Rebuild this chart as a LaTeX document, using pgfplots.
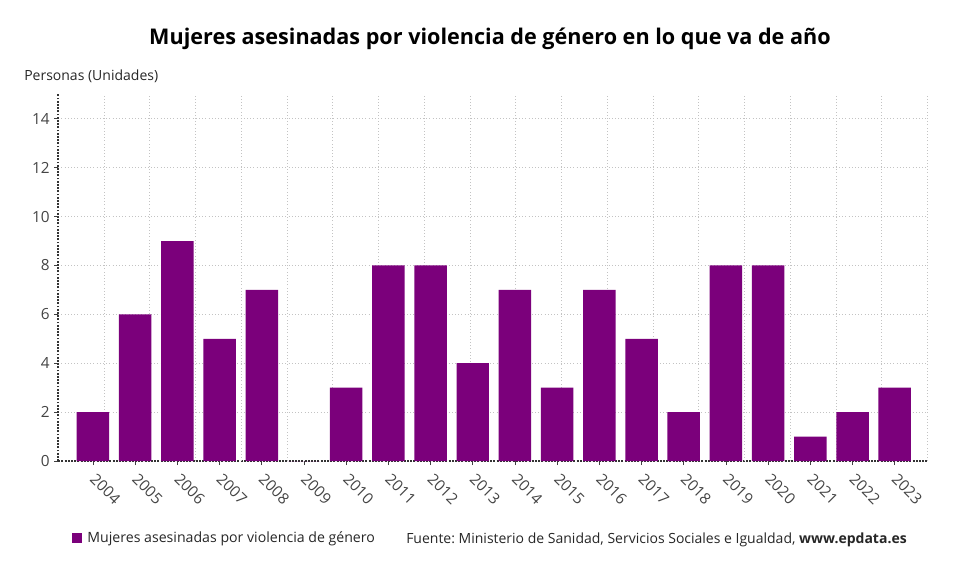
\documentclass[border=0pt]{standalone}
\usepackage{pgfplots}
\pgfplotsset{compat=1.18}
\usepackage{fontspec}
\setmainfont{Open Sans}
\frenchspacing
\definecolor{barc}{RGB}{123,0,123}
\definecolor{tickc}{RGB}{68,68,68}
\definecolor{gridc}{RGB}{195,195,195}
\begin{document}
\begin{tikzpicture}
\path[use as bounding box] (0pt,0pt) rectangle (735pt,431.25pt);
\node[anchor=base, inner sep=0pt, font=\bfseries\fontsize{16.2}{19}\selectfont] at (367.5pt,397.5pt) {Mujeres asesinadas por violencia de género en lo que va de año};
\node[anchor=base west, inner sep=0pt, font=\fontsize{10.5}{12}\selectfont, text=black!85] at (18pt,370.5pt) {Personas (Unidades)};
\begin{axis}[at={(43.7pt,85.5pt)}, anchor=south west, scale only axis,
  width=652pt, height=275pt,
  /pgf/number format/assume math mode=true,
  xmin=-0.823, xmax=19.78, ymin=0, ymax=15,
  ybar, bar width=0.77,
  ytick={0,2,...,14},
  xtick={0,...,19},
  xticklabels={2004,2005,2006,2007,2008,2009,2010,2011,2012,2013,2014,2015,2016,2017,2018,2019,2020,2021,2022,2023},
  x tick label style={xshift=3pt, yshift=-0.7pt, rotate=-45, anchor=north west, font=\fontsize{11.5}{13}\selectfont, text=tickc},
  y tick label style={font=\fontsize{11.5}{13}\selectfont, text=tickc},
  ymajorgrids, grid style={gridc, dotted, line width=0.6pt},
  extra x ticks={0.2642,1.3484,2.4326,3.5168,4.6011,5.6853,6.7695,7.8537,8.9379,10.0221,11.1063,12.1905,13.2747,14.3589,15.4432,16.5274,17.6116,18.6958,19.78},
  extra x tick labels={},
  extra x tick style={grid=major, major tick length=0pt},
  axis lines=left,
  axis line style={-, draw=black!80, densely dotted, line width=1.4pt},
  tick align=outside, major tick length=3pt,
  tick style={draw=black!75, line width=0.6pt},
  legend style={at={(0.011,-0.21)}, anchor=west, draw=none, fill=none, font=\fontsize{10.6}{12}\selectfont, text=black!85},
  legend image code/.code={\fill[barc] (0pt,-3.75pt) rectangle (7.5pt,3.75pt);},
]
\addplot[fill=barc, draw=none] coordinates {(0,2) (1,6) (2,9) (3,5) (4,7) (5,0) (6,3) (7,8) (8,8) (9,4) (10,7) (11,3) (12,7) (13,5) (14,2) (15,8) (16,8) (17,1) (18,2) (19,3)};
\addlegendentry{\hspace{2pt}Mujeres asesinadas por violencia de género}
\end{axis}
\node[anchor=base west, inner sep=0pt, font=\fontsize{10.5}{12}\selectfont, text=black!85] at (304.5pt,24pt) {Fuente: Ministerio de Sanidad, Servicios Sociales e Igualdad, \textbf{www.epdata.es}};
\end{tikzpicture}
\end{document}
